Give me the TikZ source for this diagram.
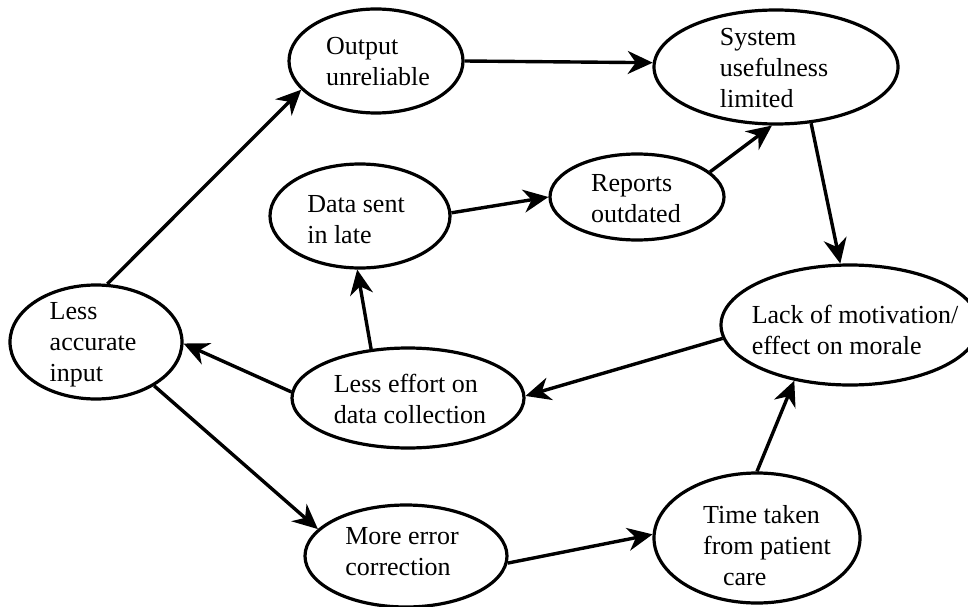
\documentclass[tikz,border=0pt]{standalone}
\usepackage{fontspec}
\setmainfont{Liberation Serif}
\usetikzlibrary{shapes.geometric,arrows.meta}
\begin{document}
\begin{tikzpicture}[x=1pt,y=-1pt,
  bubble/.style={draw, ellipse, line width=3.2pt, inner sep=0pt},
  bubtext/.style={align=left, font=\fontsize{26}{31}\selectfont, inner sep=0pt},
  link/.style={line width=3.4pt, -{Stealth[length=25pt,width=23pt,inset=8pt]}}
]
\useasboundingbox (0,0) rectangle (968,607);

% ellipses
\node[bubble, minimum width=174pt, minimum height=104pt] (out)  at (376,61)  {};
\node[bubble, minimum width=244pt, minimum height=114pt] (sys)  at (776,67)  {};
\node[bubble, minimum width=180pt, minimum height=104pt] (data) at (360,216) {};
\node[bubble, minimum width=174pt, minimum height=86pt]  (rep)  at (637,197) {};
\node[bubble, minimum width=172pt, minimum height=114pt] (acc)  at (96,342)  {};
\node[bubble, minimum width=232pt, minimum height=100pt] (eff)  at (408,398) {};
\node[bubble, minimum width=258pt, minimum height=120pt] (lack) at (850,325) {};
\node[bubble, minimum width=202pt, minimum height=102pt] (err)  at (406,556) {};
\node[bubble, minimum width=206pt, minimum height=130pt] (time) at (757,538) {};

% texts
\node[bubtext] (outT)  at (378,62)  {Output\\unreliable};
\node[bubtext] (sysT)  at (774,68)  {System\\usefulness\\limited};
\node[bubtext] (dataT) at (356,220) {Data sent\\in late};
\node[bubtext] (repT)  at (636,199) {Reports\\outdated};
\node[bubtext] (accT)  at (93,345)  {Less\\accurate\\input};
\node[bubtext] (effT)  at (410,399) {Less effort on\\data collection};
\node[bubtext] (lackT) at (855,330) {Lack of motivation/\\effect on morale};
\node[bubtext] (errT)  at (402,552) {More error\\correction};
\node[bubtext] (timeT) at (767,546) {Time taken\\from patient\\\hspace*{20pt}care};

% connectors
\draw[link] (acc.79)   -- (out.201);
\draw[link] (out.0)    -- (sys.178);
\draw[link] (data.2)   -- (rep.180);
\draw[link] (rep.19)   -- (sys.266);
\draw[link] (sys.302)  -- (lack.99);
\draw[link] (lack.186) -- (eff.1);
\draw[link] (eff.127)  -- (data.267);
\draw[link] (eff.177)  -- (acc.359);
\draw[link] (acc.323)  -- (err.163);
\draw[link] (err.356)  -- (time.178);
\draw[link] (time.90)  -- (lack.225);
\end{tikzpicture}
\end{document}
